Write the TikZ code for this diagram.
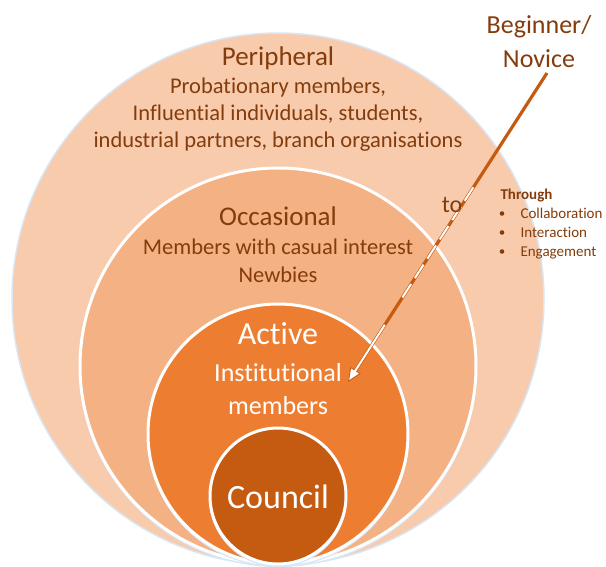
\documentclass[tikz,border=0pt]{standalone}
\usepackage{fontspec}
\setmainfont{Carlito}[Ligatures={NoCommon}]
\usetikzlibrary{arrows.meta,calc}
\definecolor{ringA}{HTML}{F8CBAD}
\definecolor{ringB}{HTML}{F4B183}
\definecolor{ringC}{HTML}{ED7D31}
\definecolor{ringD}{HTML}{C55A11}
\definecolor{txtbrown}{HTML}{843C0C}
\definecolor{glow}{HTML}{D9E7F5}
\newcommand{\fs}[1]{\fontsize{#1}{#1}\selectfont}
\begin{document}
\begin{tikzpicture}[x=1pt,y=-1pt,
  ring/.style={fill=#1, draw=white, line width=3pt},
  shade/.style={draw=glow, line width=2pt},
  head/.style={anchor=base, text=txtbrown, font=\fs{27}},
  sub/.style={anchor=base, text=txtbrown, font=\fs{22.5}},
  headw/.style={anchor=base, text=white, font=\fs{32}},
  subw/.style={anchor=base, text=white, font=\fs{26}},
  small/.style={anchor=base west, text=txtbrown, font=\fs{15}},
  pathline/.style={draw=ringD, line width=3.2pt},
  pathgap/.style={draw=white, line width=2pt}]
\useasboundingbox (0,0) rectangle (606,566);
\fill[white] (0,0) rectangle (606,566);

% nested rings, all touching at the bottom
\draw[draw=glow, line width=1.5pt, fill=ringA] (278,299) circle[radius=266];
\draw[shade] (278,368) circle[radius=198];
\draw[ring=ringB] (278,366) circle[radius=198];
\draw[shade] (278,436) circle[radius=130];
\draw[ring=ringC] (278,434) circle[radius=130];
\draw[shade] (278,498) circle[radius=68];
\draw[ring=ringD] (278,496) circle[radius=68];

% ring labels
\node[head] (peri) at (278,65) {Peripheral};
\node[sub] (peri1) at (278,93) {Probationary members,};
\node[sub] (peri2) at (278,120) {Influential individuals, students,};
\node[sub] (peri3) at (278,147) {industrial partners, branch organisations};

\node[head] (occ) at (278,225) {Occasional};
\node[sub] (occ1) at (278,254) {Members with casual interest};
\node[sub] (occ2) at (278,282) {Newbies};

\node[headw] (act) at (278,344) {Active};
\node[subw] (act1) at (278,381) {Institutional};
\node[subw] (act2) at (278,414) {members};

\node[headw, font=\fs{34}] (coun) at (278,508) {Council};

% entry point and path inward
\node[anchor=base, text=txtbrown, font=\fs{26}] (beg) at (539,33) {Beginner/};
\node[anchor=base, text=txtbrown, font=\fs{26}] (nov) at (539,67) {Novice};
\coordinate (arrowstart) at (547,73);
\coordinate (arrowtip) at (348,382);
\coordinate (fadeA) at ($(arrowstart)!0.37!(arrowtip)$);
\coordinate (fadeB) at ($(arrowstart)!0.735!(arrowtip)$);
\coordinate (fadeC) at ($(arrowstart)!0.815!(arrowtip)$);
\draw[pathline] (arrowstart) -- (fadeC);
\draw[pathgap, dash pattern=on 16pt off 7pt] (fadeA) -- (fadeB);
\draw[draw=ringD, line width=3.2pt, -{Triangle[length=14pt,width=12pt,fill=white,line width=0.8pt]}]
  (fadeC) -- (arrowtip);
\draw[pathgap, shorten >=10pt] (fadeC) -- (arrowtip);

\node[anchor=base, text=txtbrown, font=\fs{24}] (to) at (452,212) {to};

% ways of moving inward
\node[small, font=\bfseries\fs{15}] (thr) at (497,199) {Through};
\node[small] (b1) at (517,218) {Collaboration};
\node[small] (b2) at (517,237) {Interaction};
\node[small] (b3) at (517,256) {Engagement};
\foreach \b in {b1,b2,b3}
  \fill[txtbrown] ($(\b.base west)+(-15,-4.5)$) circle[radius=2.3];
\end{tikzpicture}
\end{document}
